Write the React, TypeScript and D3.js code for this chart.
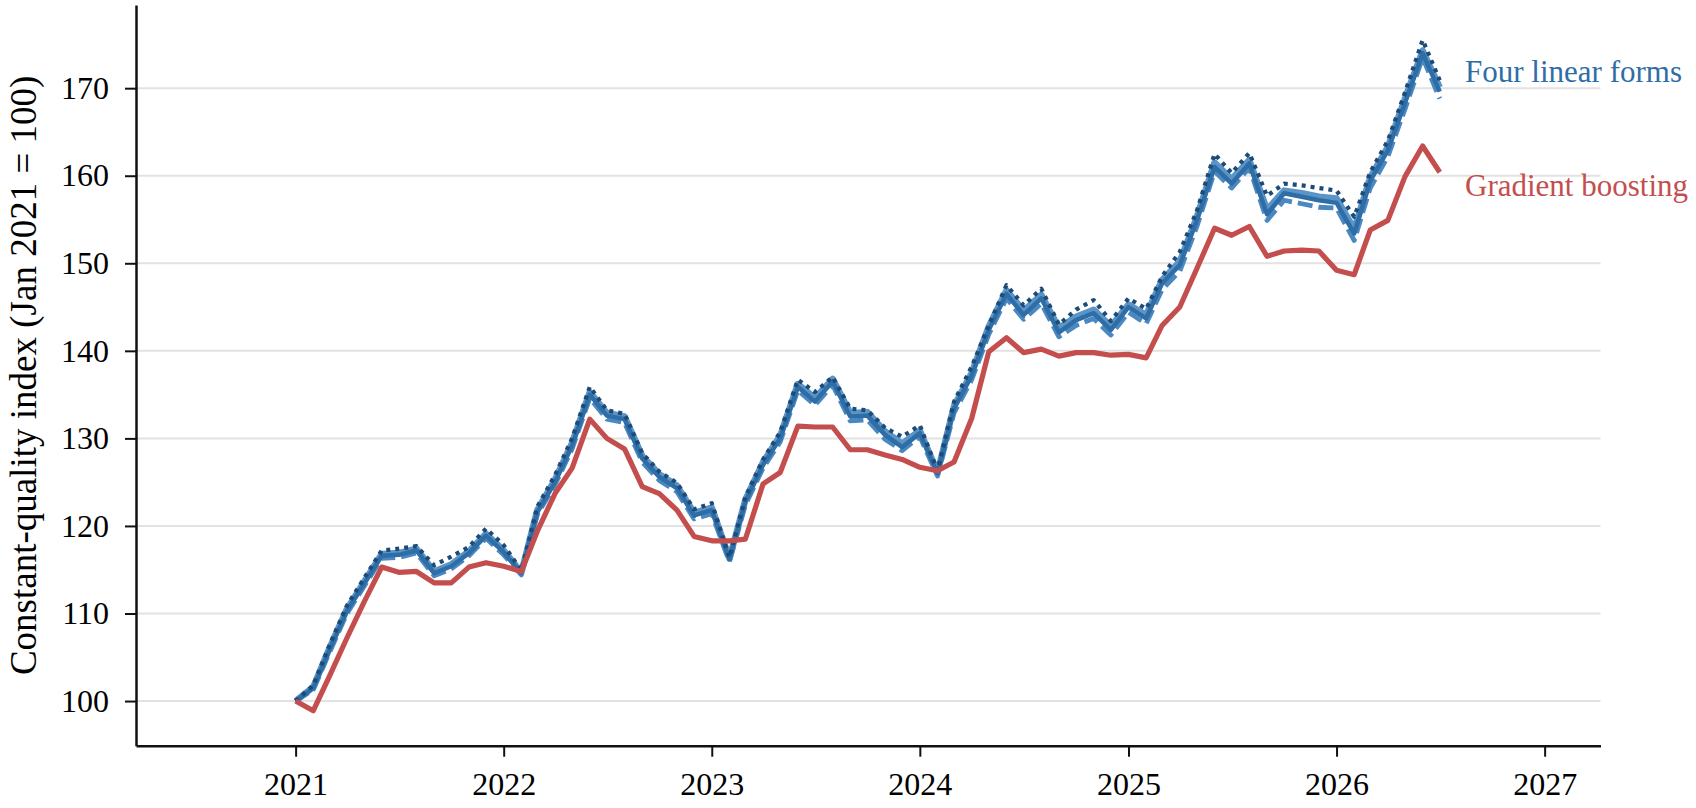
import * as d3 from 'd3';
import { useEffect, useMemo, useRef } from 'react';

const WIDTH = 1696;
const HEIGHT = 808;
const FONT = '"Liberation Serif", "DejaVu Serif", serif';

// monthly observations, Jan 2021 .. Jul 2026
const MONTHS = d3.timeMonth.range(new Date(2021, 0, 1), new Date(2026, 7, 1));

const GRADIENT_BOOSTING = [
    100, 98.9, 102.8, 107.2, 111.3, 115.3, 114.7, 114.8, 113.5, 113.5,
    115.3, 115.8, 115.4, 114.8, 119.4, 123.7, 126.6, 132.2, 130.0, 128.8,
    124.5, 123.7, 121.8, 118.8, 118.3, 118.3, 118.5, 124.8, 126.1, 131.4,
    131.3, 131.3, 128.7, 128.7, 128.1, 127.6, 126.7, 126.3, 127.3, 132.3,
    139.9, 141.5, 139.8, 140.2, 139.4, 139.8, 139.8, 139.5, 139.6, 139.2,
    142.9, 145.0, 149.4, 154.0, 153.2, 154.2, 150.8, 151.4, 151.5, 151.4,
    149.2, 148.7, 153.8, 154.9, 159.9, 163.4, 160.4,
];

const LINEAR_SOLID = [
    100, 101.5, 105.8, 110.3, 113.4, 116.6, 116.7, 117.2, 114.6, 115.4,
    116.9, 118.9, 117.0, 114.6, 121.6, 125.0, 129.2, 135.0, 132.6, 132.2,
    127.7, 125.6, 124.3, 121.2, 121.8, 116.2, 122.8, 127.0, 130.0, 135.9,
    134.2, 136.5, 132.5, 132.6, 130.4, 129.0, 130.6, 126.0, 133.4, 137.2,
    142.4, 146.5, 144.1, 146.0, 142.1, 143.5, 144.3, 142.4, 145.0, 143.7,
    147.7, 149.8, 154.9, 161.0, 159.1, 161.4, 155.6, 158.0, 157.6, 157.2,
    156.9, 153.4, 159.4, 162.9, 168.3, 174.0, 169.6,
];

const LINEAR_LIGHT = [
    100, 101.6, 106.0, 110.5, 113.6, 116.8, 116.9, 117.4, 114.8, 115.6,
    117.1, 119.1, 117.2, 114.7, 121.8, 125.3, 129.5, 135.3, 132.9, 132.5,
    128.0, 125.9, 124.6, 121.5, 122.1, 116.3, 123.0, 127.3, 130.3, 136.2,
    134.6, 136.8, 132.9, 133.0, 130.8, 129.4, 130.9, 126.1, 133.7, 137.5,
    142.8, 146.9, 144.6, 146.4, 142.6, 143.9, 144.7, 142.8, 145.3, 144.1,
    148.1, 150.2, 155.3, 161.5, 159.6, 161.8, 156.1, 158.3, 158.0, 157.6,
    157.4, 153.9, 159.8, 163.3, 168.8, 174.3, 170.1,
];

const LINEAR_DASHED = [
    100, 101.3, 105.5, 110.0, 113.1, 116.3, 116.4, 116.9, 114.3, 115.1,
    116.6, 118.6, 116.7, 114.4, 121.3, 124.7, 128.8, 134.6, 132.2, 131.8,
    127.3, 125.2, 123.9, 120.8, 121.4, 115.9, 122.4, 126.6, 129.6, 135.5,
    133.8, 136.1, 132.0, 132.1, 129.9, 128.6, 130.2, 125.7, 132.9, 136.7,
    141.9, 146.0, 143.6, 145.4, 141.6, 142.9, 143.7, 141.8, 144.4, 143.1,
    147.0, 149.1, 154.2, 160.5, 158.6, 160.9, 154.9, 157.2, 156.8, 156.4,
    156.3, 152.6, 158.6, 162.2, 167.6, 173.5, 168.8,
];

const LINEAR_DOTTED = [
    100, 101.8, 106.3, 110.9, 114.0, 117.2, 117.4, 117.7, 115.5, 116.5,
    117.6, 119.7, 117.8, 114.9, 122.2, 125.8, 130.0, 135.9, 133.2, 132.8,
    128.3, 126.2, 124.9, 121.9, 122.6, 116.4, 123.3, 127.6, 130.7, 136.7,
    135.3, 137.0, 133.4, 133.2, 131.2, 130.2, 131.5, 126.3, 134.2, 138.2,
    142.9, 147.5, 145.2, 147.1, 143.0, 144.7, 145.8, 143.4, 146.0, 144.8,
    148.5, 151.3, 156.0, 162.5, 160.3, 162.6, 157.7, 159.1, 158.9, 158.6,
    158.3, 155.3, 160.4, 164.0, 169.5, 175.5, 170.9,
];

const Y_TICKS = [100, 110, 120, 130, 140, 150, 160, 170];
const X_TICKS = [2021, 2022, 2023, 2024, 2025, 2026, 2027].map((y) => new Date(y, 0, 1));

const BLUE = '#2e6da6';
const RED = '#c44e4e';

const margin = { left: 136, right: 95.5, top: 5, bottom: 62.3 };

export default function App() {
    const xAxisRef = useRef<SVGGElement>(null);
    const yAxisRef = useRef<SVGGElement>(null);

    const x = useMemo(
        () =>
            d3
                .scaleTime()
                .domain([new Date(2020, 2, 27), new Date(2027, 3, 9)])
                .range([margin.left, WIDTH - margin.right]),
        []
    );

    const y = useMemo(
        () =>
            d3
                .scaleLinear()
                .domain([94.9, 179.5])
                .range([HEIGHT - margin.bottom, margin.top]),
        []
    );

    const line = useMemo(
        () =>
            d3
                .line<number>()
                .x((_, i) => x(MONTHS[i]))
                .y((d) => y(d)),
        [x, y]
    );

    useEffect(() => {
        const styleAxis = (g: d3.Selection<SVGGElement, unknown, null, undefined>) =>
            g
                .attr('font-family', FONT)
                .attr('font-size', 32)
                .call((g) => g.select('.domain').attr('stroke', '#111').attr('stroke-width', 2.5))
                .call((g) => g.selectAll('.tick line').attr('stroke', '#111').attr('stroke-width', 2))
                .call((g) => g.selectAll('.tick text').attr('fill', '#000'));

        if (xAxisRef.current)
            d3.select(xAxisRef.current)
                .call(
                    d3
                        .axisBottom<Date>(x)
                        .tickValues(X_TICKS)
                        .tickFormat(d3.timeFormat('%Y'))
                        .tickSize(11)
                        .tickSizeOuter(0)
                        .tickPadding(16)
                )
                .call(styleAxis);

        if (yAxisRef.current)
            d3.select(yAxisRef.current)
                .call(d3.axisLeft(y).tickValues(Y_TICKS).tickSize(11).tickSizeOuter(0).tickPadding(16))
                .call(styleAxis);
    }, [x, y]);

    const [x0, x1] = x.range();

    return (
        <div style={{ position: 'fixed', left: 0, top: 0 }}>
            <svg width={WIDTH} height={HEIGHT} viewBox={`0 0 ${WIDTH} ${HEIGHT}`}>
                <rect width={WIDTH} height={HEIGHT} fill="#fff" />
                <g>
                    {Y_TICKS.map((t) => (
                        <line key={t} x1={x0} x2={x1} y1={y(t)} y2={y(t)} stroke="#e2e2e2" strokeWidth={2} />
                    ))}
                </g>

                <g fill="none" strokeLinejoin="round">
                    <path d={line(LINEAR_LIGHT)!} stroke="#5b95c8" strokeWidth={6.5} />
                    <path d={line(LINEAR_DASHED)!} stroke="#4a88c1" strokeWidth={4.8} strokeDasharray="15,6" />
                    <path d={line(LINEAR_SOLID)!} stroke={BLUE} strokeWidth={4.5} />
                    <path d={line(LINEAR_DOTTED)!} stroke="#1d4b78" strokeWidth={4.2} strokeDasharray="4,5" />
                    <path d={line(GRADIENT_BOOSTING)!} stroke={RED} strokeWidth={5.2} />
                </g>

                <g ref={xAxisRef} transform={`translate(0, ${HEIGHT - margin.bottom})`} />
                <g ref={yAxisRef} transform={`translate(${margin.left}, 0)`} />

                <text
                    transform={`translate(36, ${(margin.top + HEIGHT - margin.bottom) / 2}) rotate(-90)`}
                    textAnchor="middle"
                    fontFamily={FONT}
                    fontSize={37}
                    fill="#000"
                >
                    Constant-quality index (Jan 2021 = 100)
                </text>

                <text x={1465} y={82} fontFamily={FONT} fontSize={31} fill={BLUE}>
                    Four linear forms
                </text>
                <text x={1465} y={196} fontFamily={FONT} fontSize={31} fill={RED}>
                    Gradient boosting
                </text>
            </svg>
        </div>
    );
}
